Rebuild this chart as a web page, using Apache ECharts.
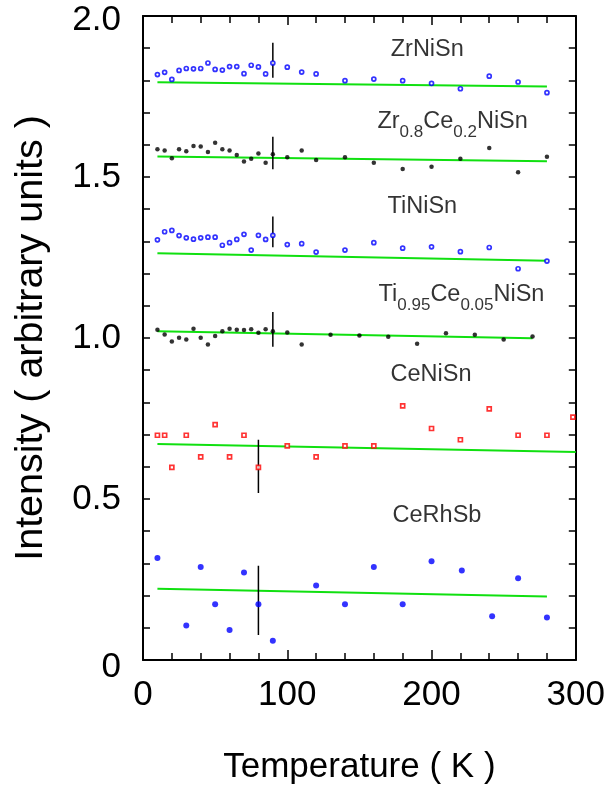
<!DOCTYPE html>
<html>
<head>
<meta charset="utf-8">
<script src="https://cdn.jsdelivr.net/npm/echarts@6/dist/echarts.min.js"></script>
<style>
html,body{margin:0;padding:0;background:#fff;}
#chart{width:608px;height:790px;}
</style>
</head>
<body>
<div id="chart"></div>
<script>
// ---- data ----
const xTickLabels = ['0','100','200','300'];
const yTickLabels = ['0','0.5','1.0','1.5','2.0'];

const T_dense = [10,15,20,25,30,35,40,45,50,55,60,65,70,75,80,85,90,100,110,120,140,160,180,200,220,240,260,280];
const T_ti095 = [10,15,20,25,30,35,40,45,50,55,60,65,70,75,80,85,90,100,110,130,150,170,190,210,230,250,270];
const T_ceNiSn = [10,15,20,30,40,50,60,70,80,100,120,140,160,180,200,220,240,260,280,298];
const T_ceRhSb = [10,30,40,50,60,70,80,90,120,140,160,180,200,221,242,260,280];

const ZrNiSn = [1.818,1.825,1.803,1.831,1.837,1.836,1.837,1.854,1.834,1.832,1.843,1.843,1.821,1.847,1.842,1.820,1.854,1.841,1.826,1.820,1.799,1.804,1.799,1.791,1.774,1.813,1.795,1.762];
const Zr08Ce02NiSn = [1.586,1.582,1.558,1.586,1.580,1.596,1.595,1.578,1.606,1.586,1.582,1.568,1.548,1.557,1.573,1.544,1.571,1.561,1.582,1.553,1.561,1.544,1.525,1.532,1.557,1.590,1.515,1.563];
const TiNiSn = [1.305,1.330,1.334,1.318,1.311,1.307,1.311,1.313,1.313,1.288,1.296,1.306,1.322,1.273,1.319,1.306,1.319,1.290,1.293,1.267,1.273,1.296,1.279,1.283,1.268,1.281,1.215,1.239];
const Ti095Ce005NiSn = [1.026,1.011,0.989,1.001,0.995,1.029,1.001,0.980,1.006,1.021,1.029,1.026,1.025,1.027,1.016,1.027,1.021,1.017,0.980,1.010,1.008,1.004,0.982,1.015,1.010,0.995,1.005];
const CeNiSn = [0.698,0.698,0.598,0.698,0.631,0.731,0.631,0.698,0.598,0.665,0.631,0.665,0.665,0.789,0.719,0.684,0.780,0.698,0.698,0.754];
const CeRhSb = [0.317,0.107,0.289,0.173,0.093,0.272,0.173,0.060,0.231,0.173,0.289,0.173,0.307,0.278,0.136,0.254,0.132];

// fitted (green) lines: [T, value] endpoints
const fitZrNiSn = [[10,1.794],[280,1.781]];
const fitZr08 = [[10,1.564],[280,1.549]];
const fitTiNiSn = [[10,1.263],[280,1.240]];
const fitTi095 = [[10,1.021],[270,0.999]];
const fitCeNiSn = [[10,0.671],[300,0.646]];
const fitCeRhSb = [[10,0.221],[280,0.197]];

// vertical black markers: [T, low, high]
const vMarkers = [[90,1.808,1.917],[90,1.524,1.625],[90,1.282,1.377],[90,0.973,1.081],[80,0.519,0.684],[80,0.078,0.293]];

// annotation labels
const annotT = [171.7,162.5,169.5,163.3,171.6,173.0];
const annotV = [1.895,1.650,1.408,1.112,0.887,0.449];
const annotText = ['{n|ZrNiSn}','{m|Zr}{s|0.8}{m|Ce}{s|0.2}{m|NiSn}','{n|TiNiSn}','{m|Ti}{s|0.95}{m|Ce}{s|0.05}{m|NiSn}','{n|CeNiSn}','{n|CeRhSb}'];

// ---- chart ----
const FONT = '"Liberation Sans", Arial, Helvetica, sans-serif';
const zip = (xs, ys) => xs.map((x, i) => [x, ys[i]]);

const chart = echarts.init(document.getElementById('chart'), null, {renderer: 'canvas'});

const series = [];
[fitZrNiSn, fitZr08, fitTiNiSn, fitTi095, fitCeNiSn, fitCeRhSb].forEach(d => {
  series.push({type:'line', data:d, symbol:'none', silent:true, z:2,
    lineStyle:{color:'#10e010', width:2}});
});
vMarkers.forEach(m => {
  series.push({type:'line', data:[[m[0],m[1]],[m[0],m[2]]], symbol:'none', silent:true, z:3,
    lineStyle:{color:'#000', width:1.5}});
});
const openBlue = {color:'#fff', borderColor:'#0000ff', borderWidth:1.7};
series.push({type:'scatter', data:zip(T_dense, ZrNiSn), symbol:'circle', symbolSize:4, itemStyle:openBlue, z:5});
series.push({type:'scatter', data:zip(T_dense, Zr08Ce02NiSn), symbol:'circle', symbolSize:4.5, itemStyle:{color:'#000'}, z:5});
series.push({type:'scatter', data:zip(T_dense, TiNiSn), symbol:'circle', symbolSize:4, itemStyle:openBlue, z:5});
series.push({type:'scatter', data:zip(T_ti095, Ti095Ce005NiSn), symbol:'circle', symbolSize:4.5, itemStyle:{color:'#000'}, z:5});
series.push({type:'scatter', data:zip(T_ceNiSn, CeNiSn), symbol:'rect', symbolSize:4, itemStyle:{color:'#fff', borderColor:'#ff0000', borderWidth:1.7}, z:5});
series.push({type:'scatter', data:zip(T_ceRhSb, CeRhSb), symbol:'circle', symbolSize:6, itemStyle:{color:'#0000ff'}, z:5});

series.push({
  type:'scatter', symbolSize:0, silent:true, z:6,
  data: annotT.map((t,i) => ({value:[t, annotV[i]], name:annotText[i]})),
  label:{
    show:true, position:'right', distance:0, align:'left', verticalAlign:'middle',
    formatter: p => p.name,
    rich:{
      n:{fontFamily:FONT, fontSize:23.5, color:'#000', lineHeight:24},
      m:{fontFamily:FONT, fontSize:23.5, color:'#000', lineHeight:24, verticalAlign:'bottom', padding:[0,0,7,0]},
      s:{fontFamily:FONT, fontSize:17, color:'#000', lineHeight:17, verticalAlign:'bottom'}
    }
  }
});

const axisLine = {show:true, onZero:false, lineStyle:{color:'#000', width:2}};
const yLabelRich = {
  t:{fontFamily:FONT, fontSize:35, color:'#000'},
  lo:{fontFamily:FONT, fontSize:35, color:'#000', padding:[14,0,0,0]},
  hi:{fontFamily:FONT, fontSize:35, color:'#000', padding:[8,0,0,0]}
};
const option = {
  animation:false,
  backgroundColor:'#fff',
  grid:{left:143, right:32, top:16, bottom:127, containLabel:false},
  xAxis:[
    {type:'value', min:0, max:300, interval:100, position:'bottom',
     axisLine:axisLine,
     axisTick:{show:true, inside:true, length:10, lineStyle:{color:'#000', width:1.5}},
     minorTick:{show:true, splitNumber:5, length:7, lineStyle:{color:'#000', width:1.5}},
     splitLine:{show:false},
     axisLabel:{fontFamily:FONT, fontSize:35, color:'#000', margin:18,
       formatter: v => xTickLabels[Math.round(v/100)]},
     name:'Temperature ( K )', nameLocation:'middle', nameGap:90,
     nameTextStyle:{fontFamily:FONT, fontSize:35, color:'#000'}},
    {type:'value', min:0, max:300, interval:100, position:'top',
     axisLine:axisLine,
     axisTick:{show:true, inside:true, length:9, lineStyle:{color:'#000', width:1.5}},
     minorTick:{show:true, splitNumber:5, length:7, lineStyle:{color:'#000', width:1.5}},
     splitLine:{show:false}, axisLabel:{show:false}}
  ],
  yAxis:[
    {type:'value', min:0, max:2, interval:0.5, position:'left',
     axisLine:axisLine,
     axisTick:{show:true, inside:true, length:7, lineStyle:{color:'#000', width:1.5}},
     minorTick:{show:true, splitNumber:5, length:7, lineStyle:{color:'#000', width:1.5}},
     splitLine:{show:false},
     axisLabel:{fontFamily:FONT, fontSize:35, color:'#000', margin:22, rich:yLabelRich,
       formatter: v => {
         const i = Math.round(v/0.5);
         const st = i === 0 ? 'lo' : (i === 4 ? 'hi' : 't');
         return '{' + st + '|' + yTickLabels[i] + '}';
       }},
     name:'Intensity ( arbitrary units )', nameLocation:'middle', nameGap:92,
     nameTextStyle:{fontFamily:FONT, fontSize:39.5, color:'#000'}},
    {type:'value', min:0, max:2, interval:0.5, position:'right',
     axisLine:axisLine,
     axisTick:{show:true, inside:true, length:7, lineStyle:{color:'#000', width:1.5}},
     minorTick:{show:true, splitNumber:5, length:7, lineStyle:{color:'#000', width:1.5}},
     splitLine:{show:false}, axisLabel:{show:false}}
  ],
  series: series
};
chart.setOption(option);
</script>
</body>
</html>
